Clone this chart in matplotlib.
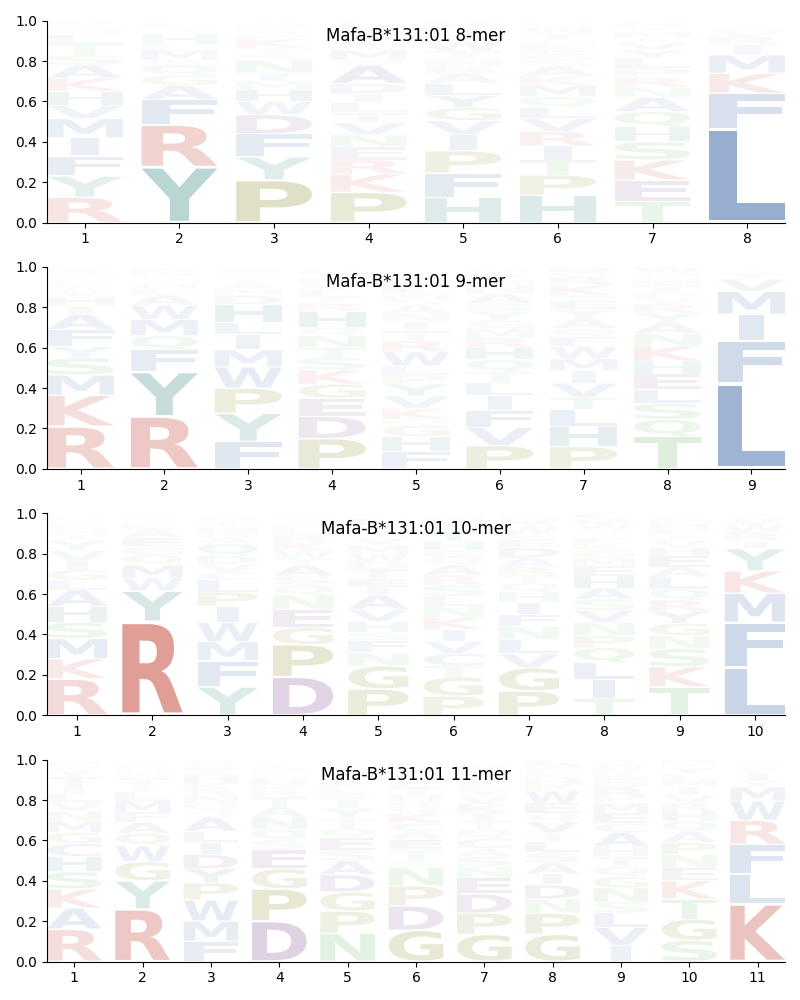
import matplotlib
matplotlib.use("Agg")
import matplotlib.pyplot as plt
from matplotlib.font_manager import FontProperties
from matplotlib.patches import PathPatch
from matplotlib.path import Path
from matplotlib.textpath import TextPath

TITLES = ["Mafa-B*131:01 8-mer", "Mafa-B*131:01 9-mer",
          "Mafa-B*131:01 10-mer", "Mafa-B*131:01 11-mer"]

# Letters of each position, listed from the bottom of the stack upward
LETTERS_8 = ["RYFIMVHKASTLNGEW", "YRFAGQSMLHTNEDK", "PYFDWHMINSTKEALGV",
             "PKRENVTLIDASMQGFYWC", "HFPIVGYLARNTWQSKED", "HPTIRVLQMKASGFEDYWCN",
             "TEKSHQANRPLYVIMFDG", "LFKMIRVWQAST"]
HEIGHTS_8 = [
    [.125, .105, .10, .09, .095, .065, .07, .065, .065, .05, .055, .045, .02, .02, .015, .02],
    [.275, .21, .125, .07, .05, .05, .025, .05, .03, .05, .02, .02, .015, .01, .01],
    [.21, .115, .115, .095, .065, .06, .04, .04, .065, .03, .03, .045, .02, .02, .015, .02, .015],
    [.15, .09, .07, .065, .06, .06, .05, .05, .045, .05, .09, .025, .05, .025, .03, .03, .03, .015, .015],
    [.125, .12, .11, .08, .07, .065, .06, .06, .05, .035, .035, .04, .05, .02, .02, .02, .02, .02],
    [.135, .10, .075, .07, .07, .065, .055, .055, .055, .045, .05, .03, .03, .03, .025, .02, .03, .03, .015, .015],
    [.105, .105, .10, .09, .075, .075, .07, .05, .05, .045, .05, .04, .04, .02, .03, .02, .02, .015],
    [.465, .175, .10, .09, .05, .04, .03, .02, .01, .005, .005, .005],
]

LETTERS_9 = ["RKMSYFAIHVWQNGED", "RYFQMWALHTSNK", "FYPWMILHDNATSGQ",
             "PDEGKSTNQHRILVFYMWC", "FHGQKVYPLWRTINASMEDC", "PVFILTQHRMGYSANDEKW",
             "PHLTVIMWFQAYESKRGD", "TQSLEHKNAYRVFIMGDW", "LFIMVYKTAS"]
HEIGHTS_9 = [
    [.21, .155, .10, .085, .055, .085, .075, .04, .05, .03, .02, .025, .02, .015, .015, .02],
    [.26, .22, .11, .07, .08, .07, .05, .03, .025, .02, .02, .025, .02],
    [.135, .14, .125, .105, .085, .075, .06, .09, .045, .03, .025, .025, .02, .02, .02],
    [.15, .11, .09, .07, .07, .06, .05, .06, .04, .08, .04, .03, .035, .03, .03, .02, .015, .01, .01],
    [.085, .075, .055, .03, .055, .06, .06, .045, .045, .07, .055, .05, .045, .04, .04, .03, .03, .03, .025, .025],
    [.115, .09, .085, .075, .06, .055, .06, .06, .05, .045, .04, .045, .04, .05, .04, .02, .02, .03, .015],
    [.11, .10, .085, .06, .07, .06, .06, .06, .05, .04, .05, .045, .045, .025, .05, .04, .025, .025],
    [.16, .085, .08, .07, .075, .065, .075, .06, .055, .045, .045, .03, .025, .03, .03, .02, .02, .03],
    [.425, .21, .13, .115, .06, .03, .01, .005, .005, .005],
]

LETTERS_10 = ["RKMSHALGIVYTNDEQ", "RYWMQGEALSTKF", "YFMWIPLCVDQARHTNS",
              "DPGENQSATWKRLHIFM", "PGNFSHVAIETDWMYQRKLC", "PGTCVIKNLSRAQEHYFWDM",
              "PGVLNFIHQTRADEKWYMS", "TILQPNVSAHEMGKFYRWDC", "TKSNGYRQLAEHVIFMPWD",
              "LFMKYIRWVTA"]
HEIGHTS_10 = [
    [.18, .10, .10, .08, .08, .08, .05, .05, .045, .05, .05, .03, .025, .02, .02, .02],
    [.465, .15, .065, .065, .05, .04, .045, .04, .03, .015, .012, .012, .011],
    [.14, .13, .095, .095, .08, .07, .06, .04, .04, .04, .06, .03, .025, .03, .025, .02, .02],
    [.19, .16, .085, .09, .07, .05, .045, .055, .03, .04, .04, .04, .03, .02, .02, .015, .02],
    [.13, .115, .065, .06, .04, .055, .06, .07, .04, .04, .05, .035, .04, .04, .035, .02, .02, .025, .04, .02],
    [.095, .095, .055, .06, .06, .06, .06, .055, .05, .055, .05, .05, .04, .03, .05, .045, .03, .03, .015, .015],
    [.12, .115, .07, .07, .065, .06, .06, .05, .045, .04, .04, .045, .05, .04, .025, .04, .03, .02, .02],
    [.085, .09, .085, .075, .06, .065, .06, .055, .055, .06, .05, .04, .04, .03, .03, .02, .02, .03, .025, .025],
    [.14, .10, .09, .065, .06, .06, .055, .055, .06, .05, .055, .04, .035, .03, .03, .025, .02, .015, .015],
    [.235, .225, .145, .11, .11, .04, .04, .04, .03, .01, .015],
]

LETTERS_11 = ["RAKSHCGMNVLITYQDE", "RYGWQAFMLITNSHKV", "FMWPYDILASQNRKHTEG",
              "DPGESQNATRKHLIMYFW", "NPGDASEQTYIRLKVHFMWC", "GDPNSTEACKQRHILVMYFW",
              "GPDENSACQTIKVYFLHRMW", "GPNDIASLTVQEWRHKCMF", "IVLSNGQTHACEMFRDPKWY",
              "SGTKENPAQHRVIMLYFD", "KLFRWMYIVQAS"]
HEIGHTS_11 = [
    [.16, .105, .095, .085, .075, .065, .055, .055, .05, .045, .04, .035, .05, .035, .02, .02, .015],
    [.26, .14, .095, .08, .06, .055, .05, .055, .045, .03, .04, .02, .02, .02, .015, .015],
    [.10, .10, .105, .085, .07, .07, .06, .055, .07, .03, .04, .04, .03, .03, .04, .03, .02, .025],
    [.20, .16, .10, .095, .045, .055, .06, .05, .05, .03, .03, .03, .02, .015, .02, .015, .01, .01],
    [.14, .11, .095, .085, .07, .05, .065, .045, .05, .05, .04, .03, .03, .025, .02, .02, .02, .02, .015, .02],
    [.155, .12, .10, .09, .035, .055, .05, .04, .04, .05, .035, .025, .03, .03, .035, .02, .02, .03, .02, .02],
    [.135, .105, .095, .08, .055, .05, .04, .05, .045, .04, .04, .045, .04, .03, .02, .03, .02, .025, .02, .015],
    [.135, .105, .07, .07, .055, .055, .05, .055, .045, .055, .04, .05, .06, .03, .03, .03, .02, .03, .025],
    [.08, .09, .07, .055, .07, .055, .05, .05, .05, .07, .045, .05, .05, .03, .045, .03, .03, .03, .03, .02],
    [.105, .105, .10, .09, .065, .065, .06, .055, .05, .05, .04, .04, .04, .035, .03, .03, .02, .02],
    [.285, .15, .145, .12, .095, .07, .03, .04, .02, .015, .015, .015],
]

ALL_LETTERS = [LETTERS_8, LETTERS_9, LETTERS_10, LETTERS_11]
ALL_HEIGHTS = [HEIGHTS_8, HEIGHTS_9, HEIGHTS_10, HEIGHTS_11]

COLORS = {}
for group, color in [("RK", "#c0392b"), ("DE", "#6c2f7d"), ("PG", "#757500"),
                     ("STNQ", "#3ca53c"), ("HY", "#0f6f6b"),
                     ("AVLIMFWC", "#2c5b9f")]:
    for aa in group:
        COLORS[aa] = color

FONT = FontProperties(family="DejaVu Sans", weight="bold")
GLYPHS = {}


def glyph(letter):
    if letter not in GLYPHS:
        GLYPHS[letter] = TextPath((0, 0), letter, size=1, prop=FONT)
    return GLYPHS[letter]


def opacity(height):
    """Ink fades with the letter's share; the smallest letters fade faster."""
    fade = 1.0 if height >= 0.06 else 0.45 + 0.55 * height / 0.06
    return min(1.0, 1.05 * height * fade)


def draw_letter(ax, letter, x, bottom, height, vpad=0.03):
    # I keeps a narrow stem instead of being stretched across the whole column
    width = 0.29 if letter == "I" else 0.8
    path = glyph(letter)
    box = path.get_extents()
    pad = height * vpad
    sx = width / box.width
    sy = (height - 2 * pad) / box.height
    verts = path.vertices.copy()
    verts[:, 0] = (verts[:, 0] - box.x0) * sx + x - width / 2
    verts[:, 1] = (verts[:, 1] - box.y0) * sy + bottom + pad
    ax.add_patch(PathPatch(Path(verts, path.codes), facecolor=COLORS[letter],
                           edgecolor="none", alpha=opacity(height)))


fig = plt.figure(figsize=(8, 10), dpi=100)
BOTTOMS_PX = [222.5, 468.8, 715.2, 961.5]
for bottom_px, title, letters, heights in zip(BOTTOMS_PX, TITLES, ALL_LETTERS, ALL_HEIGHTS):
    ax = fig.add_axes([47 / 800, 1 - bottom_px / 1000, 738 / 800, 201.8 / 1000])
    n = len(letters)
    for pos, (seq, vals) in enumerate(zip(letters, heights), start=1):
        base = 0.0
        for letter, h in zip(seq, vals):
            draw_letter(ax, letter, pos, base, h)
            base += h
    ax.set_xlim(0.6, n + 0.4)
    ax.set_ylim(0, 1)
    ax.set_xticks(range(1, n + 1))
    ax.set_yticks([0, .2, .4, .6, .8, 1.0])
    ax.tick_params(labelsize=10)
    ax.spines["top"].set_visible(False)
    ax.spines["right"].set_visible(False)
    ax.text(0.5, 0.925, title, transform=ax.transAxes, ha="center", va="center", fontsize=12)

fig.savefig("out.png", dpi=100)
